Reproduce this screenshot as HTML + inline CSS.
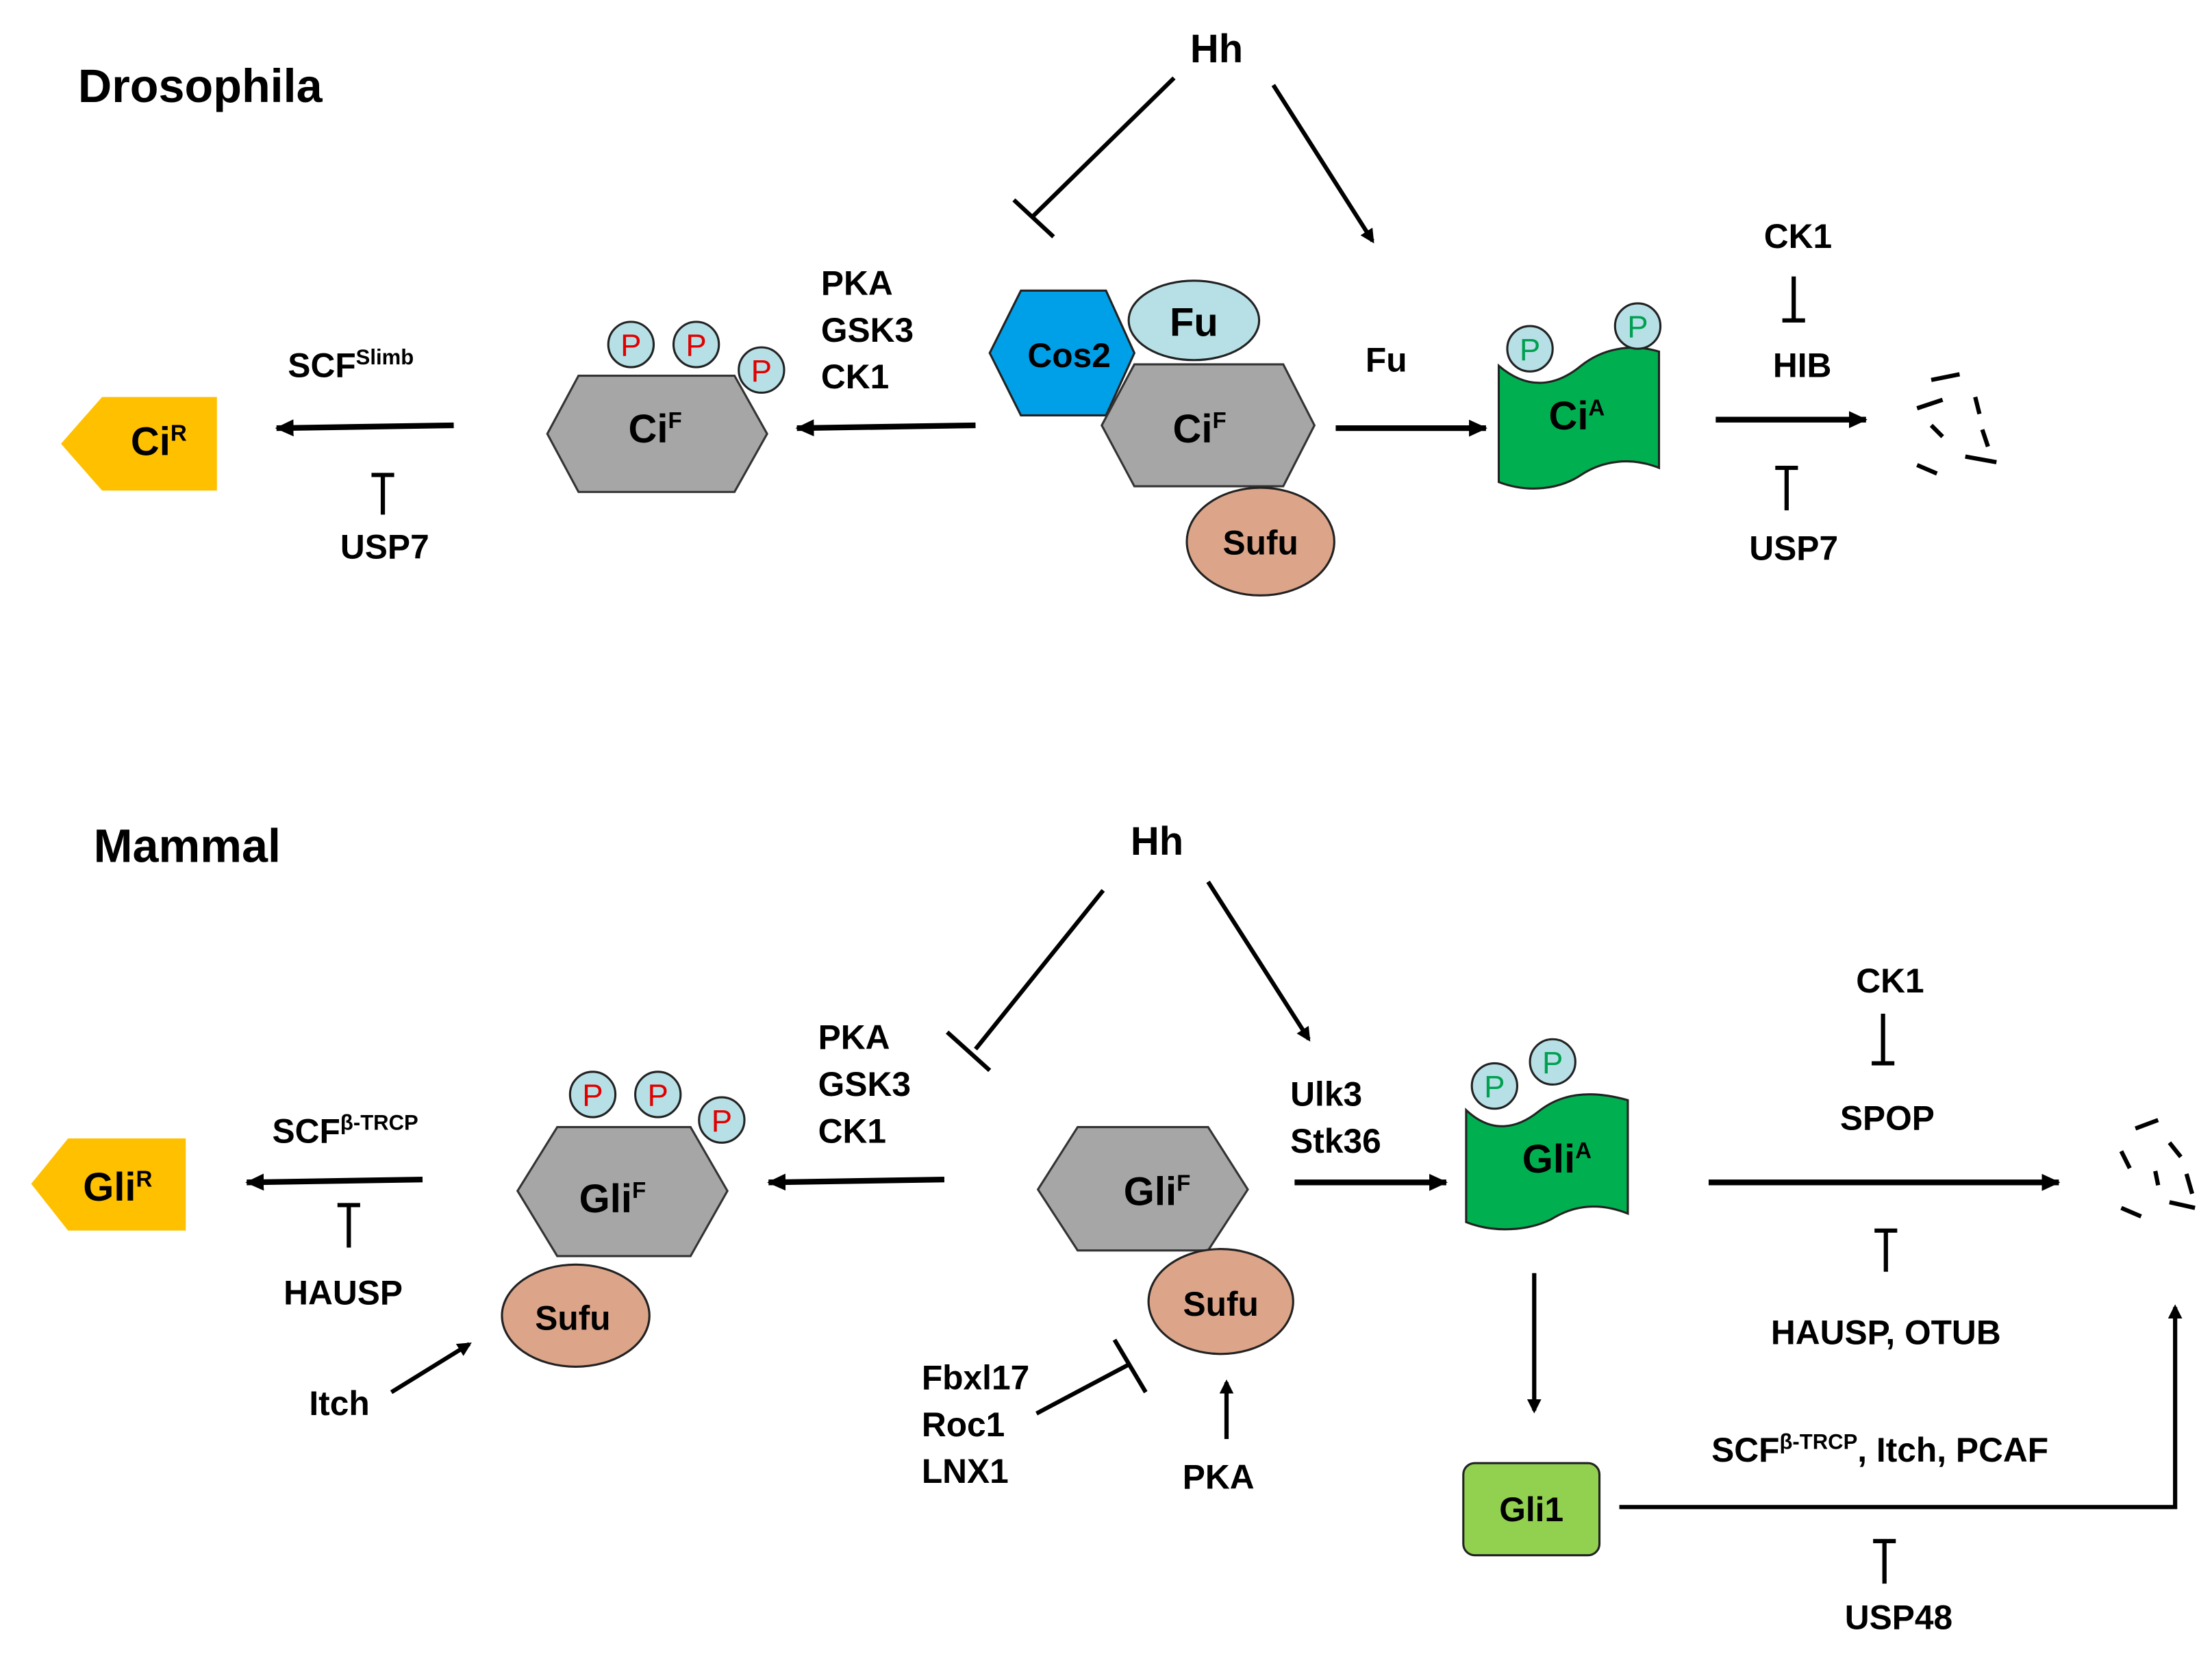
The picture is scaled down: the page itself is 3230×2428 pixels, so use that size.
<!DOCTYPE html>
<html><head><meta charset="utf-8"><style>
html,body{margin:0;padding:0;background:#fff;}
svg{display:block;}
text{font-family:"Liberation Sans",Arial,sans-serif;font-weight:bold;fill:#000;}
</style></head><body>
<svg width="3230" height="2428" viewBox="0 0 1560 1173" preserveAspectRatio="none" xmlns="http://www.w3.org/2000/svg">
<defs>
<marker id="ah" markerWidth="10" markerHeight="10" refX="8" refY="5" orient="auto" markerUnits="userSpaceOnUse">
<path d="M0,0 L10,5 L0,10 Z" fill="#000"/></marker>
<marker id="ahs" markerWidth="14" markerHeight="14" refX="12" refY="7" orient="auto" markerUnits="userSpaceOnUse">
<path d="M0,1 L13,7 L0,13 Z" fill="#000"/></marker>
</defs>
<g stroke="#000" fill="none">
<!-- Drosophila -->
<line x1="828" y1="55" x2="728" y2="153" stroke-width="3"/>
<line x1="715" y1="141" x2="743" y2="167" stroke-width="3"/>
<line x1="898" y1="60" x2="968" y2="170" stroke-width="3" marker-end="url(#ah)"/>
<line x1="688" y1="300" x2="562" y2="302" stroke-width="4" marker-end="url(#ahs)"/>
<line x1="320" y1="300" x2="195" y2="302" stroke-width="4" marker-end="url(#ahs)"/>
<line x1="270" y1="363" x2="270" y2="335" stroke-width="3"/><line x1="262" y1="335" x2="278" y2="335" stroke-width="3"/>
<line x1="942" y1="302" x2="1048" y2="302" stroke-width="4" marker-end="url(#ahs)"/>
<line x1="1265" y1="195" x2="1265" y2="226" stroke-width="3"/><line x1="1257" y1="226" x2="1273" y2="226" stroke-width="3"/>
<line x1="1210" y1="296" x2="1316" y2="296" stroke-width="4" marker-end="url(#ahs)"/>
<line x1="1260" y1="360" x2="1260" y2="330" stroke-width="3"/><line x1="1252" y1="330" x2="1268" y2="330" stroke-width="3"/>
<g stroke-width="3">
<path d="M1362,268 L1382,264"/><path d="M1352,288 L1370,282"/><path d="M1393,280 L1396,292"/><path d="M1362,300 L1370,308"/>
<path d="M1398,303 L1402,315"/><path d="M1352,328 L1366,334"/><path d="M1386,322 L1408,326"/>
</g>
<!-- Mammal -->
<line x1="778" y1="628" x2="688" y2="740" stroke-width="3"/>
<line x1="668" y1="728" x2="698" y2="755" stroke-width="3"/>
<line x1="852" y1="622" x2="923" y2="733" stroke-width="3" marker-end="url(#ah)"/>
<line x1="666" y1="832" x2="542" y2="834" stroke-width="4" marker-end="url(#ahs)"/>
<line x1="298" y1="832" x2="174" y2="834" stroke-width="4" marker-end="url(#ahs)"/>
<line x1="246" y1="880" x2="246" y2="850" stroke-width="3"/><line x1="238" y1="850" x2="254" y2="850" stroke-width="3"/>
<line x1="276" y1="982" x2="331" y2="948" stroke-width="3" marker-end="url(#ah)"/>
<line x1="731" y1="997" x2="797" y2="962" stroke-width="3"/>
<line x1="786" y1="945" x2="808" y2="982" stroke-width="3"/>
<line x1="865" y1="1015" x2="865" y2="975" stroke-width="3" marker-end="url(#ah)"/>
<line x1="913" y1="834" x2="1020" y2="834" stroke-width="4" marker-end="url(#ahs)"/>
<line x1="1205" y1="834" x2="1452" y2="834" stroke-width="4" marker-end="url(#ahs)"/>
<line x1="1328" y1="715" x2="1328" y2="750" stroke-width="3"/><line x1="1320" y1="750" x2="1336" y2="750" stroke-width="3"/>
<line x1="1330" y1="897" x2="1330" y2="868" stroke-width="3"/><line x1="1322" y1="868" x2="1338" y2="868" stroke-width="3"/>
<line x1="1082" y1="898" x2="1082" y2="995" stroke-width="3" marker-end="url(#ah)"/>
<path d="M1142,1063 L1534,1063 L1534,922" stroke-width="3" marker-end="url(#ah)"/>
<line x1="1329" y1="1117" x2="1329" y2="1087" stroke-width="3"/><line x1="1321" y1="1087" x2="1337" y2="1087" stroke-width="3"/>
<g stroke-width="3">
<path d="M1506,796 L1522,790"/><path d="M1496,812 L1502,824"/><path d="M1530,806 L1538,816"/><path d="M1520,826 L1522,836"/>
<path d="M1542,828 L1546,842"/><path d="M1496,852 L1510,858"/><path d="M1530,848 L1548,852"/>
</g>
</g>

<!-- Drosophila shapes -->
<polygon points="72,280 153,280 153,346 72,346 43,313" fill="#ffc000"/>
<polygon points="408,265 518,265 541,306 518,347 408,347 386,306" fill="#a6a6a6" stroke="#333" stroke-width="1.5"/>
<g fill="#b7e0e6" stroke="#222" stroke-width="1.5">
<circle cx="445" cy="243" r="16"/><circle cx="491" cy="243" r="16"/><circle cx="537" cy="261" r="16"/>
</g>
<polygon points="720,205 780,205 800,249 780,293 720,293 698,249" fill="#00a0e9" stroke="#222" stroke-width="1.5"/>
<ellipse cx="842" cy="226" rx="46" ry="28" fill="#b7e0e6" stroke="#222" stroke-width="1.5"/>
<polygon points="800,257 905,257 927,300 905,343 800,343 777,300" fill="#a6a6a6" stroke="#333" stroke-width="1.5"/>
<ellipse cx="889" cy="382" rx="52" ry="38" fill="#dca58a" stroke="#222" stroke-width="1.5"/>
<path d="M1057,258 C1078,276 1098,272 1115,258 C1130,246 1150,242 1170,248 L1170,330 C1150,322 1130,325 1115,335 C1100,345 1078,348 1057,340 Z" fill="#00b050" stroke="#222" stroke-width="1.5"/>
<g fill="#b7e0e6" stroke="#222" stroke-width="1.5"><circle cx="1079" cy="246" r="16"/><circle cx="1155" cy="230" r="16"/></g>

<!-- Mammal shapes -->
<polygon points="48,803 131,803 131,868 48,868 22,835" fill="#ffc000"/>
<polygon points="393,795 487,795 513,840 487,886 393,886 365,840" fill="#a6a6a6" stroke="#333" stroke-width="1.5"/>
<g fill="#b7e0e6" stroke="#222" stroke-width="1.5">
<circle cx="418" cy="772" r="16"/><circle cx="464" cy="772" r="16"/><circle cx="509" cy="790" r="16"/>
</g>
<ellipse cx="406" cy="928" rx="52" ry="36" fill="#dca58a" stroke="#222" stroke-width="1.5"/>
<polygon points="760,795 852,795 880,839 852,882 760,882 732,839" fill="#a6a6a6" stroke="#333" stroke-width="1.5"/>
<ellipse cx="861" cy="918" rx="51" ry="37" fill="#dca58a" stroke="#222" stroke-width="1.5"/>
<path d="M1034,783 C1052,800 1070,796 1085,784 C1100,772 1120,768 1148,776 L1148,856 C1128,848 1110,850 1094,860 C1078,868 1054,870 1034,862 Z" fill="#00b050" stroke="#222" stroke-width="1.5"/>
<g fill="#b7e0e6" stroke="#222" stroke-width="1.5"><circle cx="1054" cy="766" r="16"/><circle cx="1095" cy="749" r="16"/></g>
<rect x="1032" y="1032" width="96" height="65" rx="8" fill="#92d050" stroke="#222" stroke-width="1.5"/>

<!-- P labels -->
<g font-size="22" text-anchor="middle" style="font-weight:normal">
<text x="445" y="251" style="fill:#e00000;font-weight:normal">P</text>
<text x="491" y="251" style="fill:#e00000;font-weight:normal">P</text>
<text x="537" y="269" style="fill:#e00000;font-weight:normal">P</text>
<text x="418" y="780" style="fill:#e00000;font-weight:normal">P</text>
<text x="464" y="780" style="fill:#e00000;font-weight:normal">P</text>
<text x="509" y="798" style="fill:#e00000;font-weight:normal">P</text>
<text x="1079" y="254" style="fill:#00a050;font-weight:normal">P</text>
<text x="1155" y="238" style="fill:#00a050;font-weight:normal">P</text>
<text x="1054" y="774" style="fill:#00a050;font-weight:normal">P</text>
<text x="1095" y="757" style="fill:#00a050;font-weight:normal">P</text>
</g>

<!-- Text -->
<text x="55" y="72" font-size="33">Drosophila</text>
<text x="858" y="44" font-size="28" text-anchor="middle">Hh</text>
<text x="579" y="208" font-size="24">PKA</text>
<text x="579" y="241" font-size="24">GSK3</text>
<text x="579" y="274" font-size="24">CK1</text>
<text x="203" y="266" font-size="24">SCF<tspan font-size="15" dy="-9">Slimb</tspan></text>
<text x="240" y="394" font-size="24">USP7</text>
<text x="112" y="321" font-size="28" text-anchor="middle">Ci<tspan font-size="16" dy="-10">R</tspan></text>
<text x="462" y="312" font-size="28" text-anchor="middle">Ci<tspan font-size="16" dy="-10">F</tspan></text>
<text x="754" y="259" font-size="24" text-anchor="middle">Cos2</text>
<text x="842" y="237" font-size="28" text-anchor="middle">Fu</text>
<text x="846" y="312" font-size="28" text-anchor="middle">Ci<tspan font-size="16" dy="-10">F</tspan></text>
<text x="889" y="391" font-size="24" text-anchor="middle">Sufu</text>
<text x="963" y="262" font-size="24">Fu</text>
<text x="1112" y="303" font-size="28" text-anchor="middle">Ci<tspan font-size="16" dy="-10">A</tspan></text>
<text x="1268" y="175" font-size="24" text-anchor="middle">CK1</text>
<text x="1271" y="266" font-size="24" text-anchor="middle">HIB</text>
<text x="1265" y="395" font-size="24" text-anchor="middle">USP7</text>

<text x="66" y="608" font-size="33">Mammal</text>
<text x="816" y="603" font-size="28" text-anchor="middle">Hh</text>
<text x="577" y="740" font-size="24">PKA</text>
<text x="577" y="773" font-size="24">GSK3</text>
<text x="577" y="806" font-size="24">CK1</text>
<text x="192" y="806" font-size="24">SCF<tspan font-size="15" dy="-9">β-TRCP</tspan></text>
<text x="200" y="920" font-size="24">HAUSP</text>
<text x="218" y="998" font-size="24">Itch</text>
<text x="83" y="847" font-size="28" text-anchor="middle">Gli<tspan font-size="16" dy="-10">R</tspan></text>
<text x="432" y="855" font-size="28" text-anchor="middle">Gli<tspan font-size="16" dy="-10">F</tspan></text>
<text x="404" y="938" font-size="24" text-anchor="middle">Sufu</text>
<text x="816" y="850" font-size="28" text-anchor="middle">Gli<tspan font-size="16" dy="-10">F</tspan></text>
<text x="861" y="928" font-size="24" text-anchor="middle">Sufu</text>
<text x="650" y="980" font-size="24">Fbxl17</text>
<text x="650" y="1013" font-size="24">Roc1</text>
<text x="650" y="1046" font-size="24">LNX1</text>
<text x="834" y="1050" font-size="24">PKA</text>
<text x="910" y="780" font-size="24">Ulk3</text>
<text x="910" y="813" font-size="24">Stk36</text>
<text x="1098" y="827" font-size="28" text-anchor="middle">Gli<tspan font-size="16" dy="-10">A</tspan></text>
<text x="1333" y="700" font-size="24" text-anchor="middle">CK1</text>
<text x="1331" y="797" font-size="24" text-anchor="middle">SPOP</text>
<text x="1330" y="948" font-size="24" text-anchor="middle">HAUSP, OTUB</text>
<text x="1080" y="1073" font-size="24" text-anchor="middle">Gli1</text>
<text x="1207" y="1031" font-size="24">SCF<tspan font-size="15" dy="-9">β-TRCP</tspan><tspan dy="9">, Itch, PCAF</tspan></text>
<text x="1339" y="1149" font-size="24" text-anchor="middle">USP48</text>
</svg>
</body></html>
